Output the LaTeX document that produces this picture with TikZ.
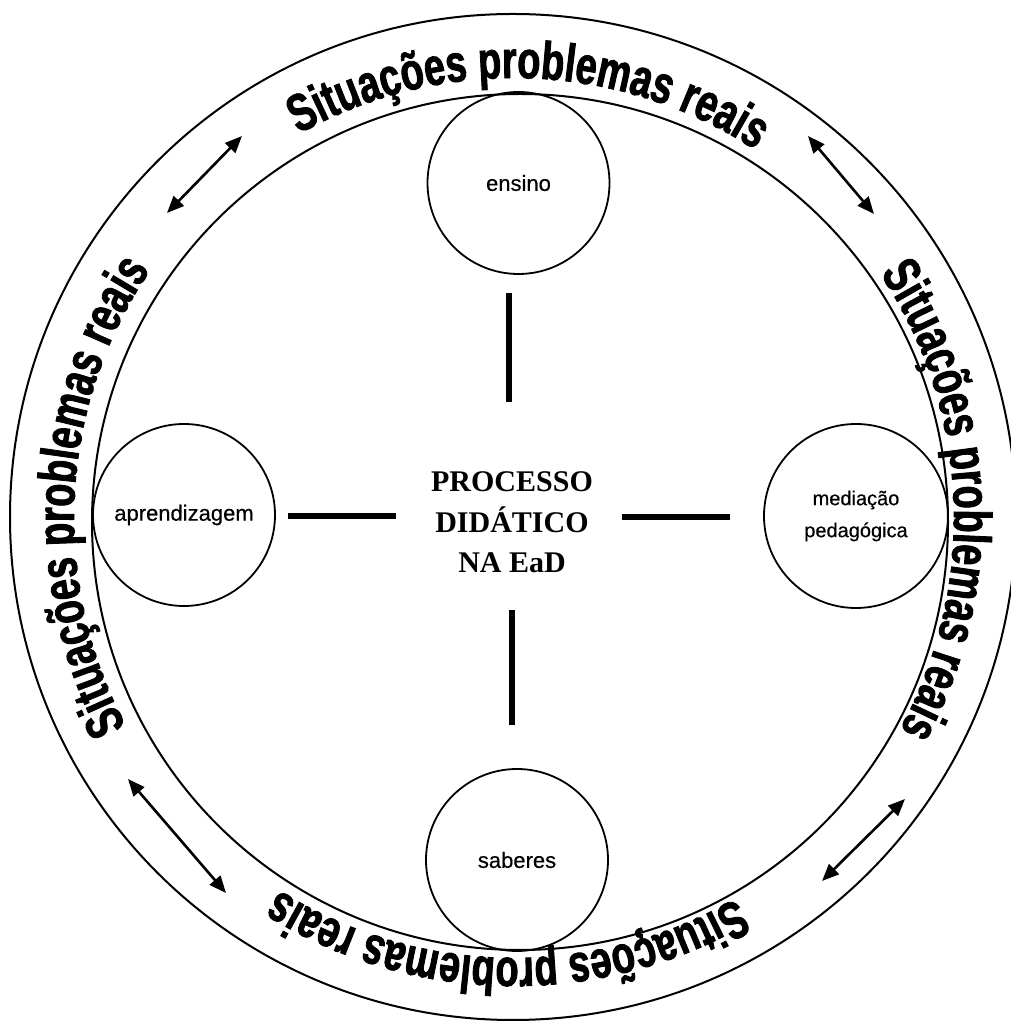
\documentclass[tikz,border=0pt]{standalone}
\usepackage{fontspec}
\usetikzlibrary{decorations.text,arrows.meta}
\newfontfamily\arcfont[FakeStretch=0.715,FakeBold=1.6]{Liberation Sans Bold}
\newfontfamily\lblfont[FakeBold=0.4]{Liberation Sans}
\newfontfamily\ctrfont{Liberation Serif Bold}
\begin{document}
\begin{tikzpicture}[x=1pt,y=1pt,
  ring/.style={line width=2pt},
  topic/.style={circle, draw, line width=1.8pt, minimum size=182pt, inner sep=0pt,
    font=\lblfont\fontsize{22}{26}\selectfont, align=center},
  bar/.style={line width=6pt},
  tip/.tip={Triangle[length=17pt,width=14pt]},
  dblarrow/.style={line width=2.6pt, tip-tip},
  arctext/.style={decorate, decoration={text along path, text align=center,
    text={|\arcfont\fontsize{53}{53}\selectfont|#1}}}
]
\useasboundingbox (0,0) rectangle (1010,1023);
\fill[white] (0,0) rectangle (1010,1023);

% rings
\draw[ring] (513,506) circle[radius=503];
\draw[ring] (520,501) circle[radius=428];

% text along the ring
\coordinate (tc) at (514,505);
\path[arctext={Situações problemas reais}] (tc) ++(133:440) arc[start angle=133, end angle=43, radius=440];
\path[arctext={Situações problemas reais}] (tc) ++(47.5:440) arc[start angle=47.5, end angle=-42.5, radius=440];
\path[arctext={Situações problemas reais}] (tc) ++(-46:440) arc[start angle=-46, end angle=-136, radius=440];
\path[arctext={Situações problemas reais}] (tc) ++(222:440) arc[start angle=222, end angle=132, radius=440];

% topic circles
\node[topic] (ensino) at (518.5,840) {ensino};
\node[topic] (saberes) at (517,163) {saberes};
\node[topic] (aprend) at (184,508) {aprendizagem};
\node[topic, minimum size=184pt, font=\lblfont\fontsize{20}{32}\selectfont] (mediacao) at (856,507) {mediação\\pedagógica};

% centre
\node[font=\ctrfont\fontsize{30}{40.5}\selectfont, align=center, inner sep=0pt] (proc) at (512,500.5) {PROCESSO\\DIDÁTICO\\NA EaD};

% bars
\coordinate (b1a) at (509,730); \coordinate (b1b) at (509,621);
\coordinate (b2a) at (512,413); \coordinate (b2b) at (512,298);
\coordinate (b3a) at (288,507); \coordinate (b3b) at (396,507);
\coordinate (b4a) at (622,506); \coordinate (b4b) at (730,506);
\draw[bar] (b1a) -- (b1b);
\draw[bar] (b2a) -- (b2b);
\draw[bar] (b3a) -- (b3b);
\draw[bar] (b4a) -- (b4b);

% arrows
\coordinate (a1a) at (167,810); \coordinate (a1b) at (242,887);
\coordinate (a2a) at (808,887); \coordinate (a2b) at (874,809);
\coordinate (a3a) at (128,244); \coordinate (a3b) at (226,130);
\coordinate (a4a) at (905,224); \coordinate (a4b) at (822,142);
\draw[dblarrow] (a1a) -- (a1b);
\draw[dblarrow] (a2a) -- (a2b);
\draw[dblarrow] (a3a) -- (a3b);
\draw[dblarrow] (a4a) -- (a4b);
\end{tikzpicture}
\end{document}
